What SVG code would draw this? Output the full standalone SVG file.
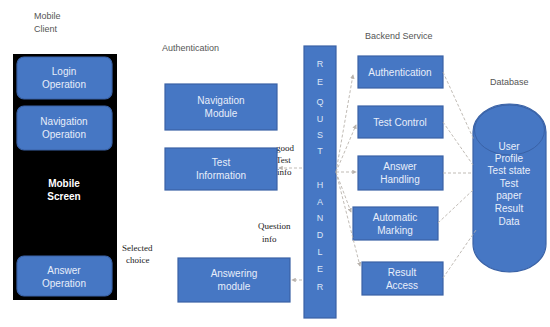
<svg xmlns="http://www.w3.org/2000/svg" width="550" height="327" viewBox="0 0 550 327">
<defs>
<style>
.box{fill:#4677c4;stroke:#3a62a6;stroke-width:1.2}
.t{font-family:"Liberation Sans",Arial,sans-serif;font-size:10px;fill:#e8eefa;text-anchor:middle}
.lbl{font-family:"Liberation Sans",Arial,sans-serif;font-size:9px;fill:#555}
.ser{font-family:"Liberation Serif","Times New Roman",serif;font-size:9px;fill:#222}
.hl{font-family:"Liberation Sans",Arial,sans-serif;font-size:9px;fill:#dde6f6;text-anchor:middle}
.con{stroke:#b9b3ad;stroke-width:0.9;fill:none;stroke-dasharray:3,2}
</style>
<marker id="ah" viewBox="0 0 6 6" refX="5" refY="3" markerWidth="5" markerHeight="5" orient="auto"><path d="M0,0 L6,3 L0,6 z" fill="#b9b3ad"/></marker>
</defs>
<rect width="550" height="327" fill="#fff"/>

<g id="mobile-client">
<text class="lbl" x="34" y="19">Mobile</text>
<text class="lbl" x="34" y="32">Client</text>
<rect x="13" y="54" width="104" height="246" fill="#000"/>
<text x="64" y="187" font-family="Liberation Sans,Arial,sans-serif" font-size="10" font-weight="bold" fill="#fff" text-anchor="middle">Mobile</text>
<text x="64" y="200" font-family="Liberation Sans,Arial,sans-serif" font-size="10" font-weight="bold" fill="#fff" text-anchor="middle">Screen</text>
</g>
<g id="login-operation">
<rect class="box" x="17" y="57" width="95" height="42" rx="7"/>
<text class="t" x="64" y="75">Login</text>
<text class="t" x="64" y="88">Operation</text>
</g>
<g id="navigation-operation">
<rect class="box" x="17" y="106" width="95" height="44" rx="7"/>
<text class="t" x="64" y="125">Navigation</text>
<text class="t" x="64" y="138">Operation</text>
</g>
<g id="answer-operation">
<rect class="box" x="17" y="256" width="95" height="40" rx="7"/>
<text class="t" x="64" y="274">Answer</text>
<text class="t" x="64" y="287">Operation</text>
</g>

<g id="labels">
<text class="ser" x="122" y="251">Selected</text>
<text class="ser" x="126" y="263">choice</text>
<text class="lbl" x="162" y="51">Authentication</text>
<text class="ser" x="276" y="151">good</text>
<text class="ser" x="276" y="163">Test</text>
<text class="ser" x="277" y="175">info</text>
<text class="ser" x="258" y="229">Question</text>
<text class="ser" x="262" y="242">info</text>
<text class="lbl" x="365" y="39">Backend Service</text>
<text class="lbl" x="490" y="85" font-size="8">Database</text>
</g>

<g id="navigation-module">
<rect class="box" x="165" y="84" width="112" height="46"/>
<text class="t" x="221" y="104">Navigation</text>
<text class="t" x="221" y="117">Module</text>
</g>
<g id="test-information">
<rect class="box" x="165" y="148" width="112" height="42"/>
<text class="t" x="221" y="166">Test</text>
<text class="t" x="221" y="179">Information</text>
</g>
<g id="answering-module">
<rect class="box" x="178" y="258" width="112" height="44"/>
<text class="t" x="234" y="277">Answering</text>
<text class="t" x="234" y="290">module</text>
</g>

<g id="request-handler">
<rect class="box" x="304" y="46" width="32" height="272"/>
<text class="hl" x="320" y="67">R</text>
<text class="hl" x="320" y="85">E</text>
<text class="hl" x="320" y="105">Q</text>
<text class="hl" x="320" y="122">U</text>
<text class="hl" x="320" y="138">S</text>
<text class="hl" x="320" y="154">T</text>
<text class="hl" x="320" y="188">H</text>
<text class="hl" x="320" y="205">A</text>
<text class="hl" x="320" y="221">N</text>
<text class="hl" x="320" y="238">D</text>
<text class="hl" x="320" y="255">L</text>
<text class="hl" x="320" y="272">E</text>
<text class="hl" x="320" y="290">R</text>
</g>

<g id="auth-service">
<rect class="box" x="358" y="56" width="85" height="32"/>
<text class="t" x="400" y="76">Authentication</text>
</g>
<g id="test-control">
<rect class="box" x="358" y="106" width="85" height="32"/>
<text class="t" x="400" y="126">Test Control</text>
</g>
<g id="answer-handling">
<rect class="box" x="358" y="156" width="85" height="34"/>
<text class="t" x="400" y="170">Answer</text>
<text class="t" x="400" y="183">Handling</text>
</g>
<g id="automatic-marking">
<rect class="box" x="353" y="207" width="85" height="33"/>
<text class="t" x="395" y="221">Automatic</text>
<text class="t" x="395" y="234">Marking</text>
</g>
<g id="result-access">
<rect class="box" x="362" y="262" width="81" height="33"/>
<text class="t" x="402" y="276">Result</text>
<text class="t" x="402" y="289">Access</text>
</g>

<g id="database">
<rect class="box" x="473" y="104" width="73" height="168" rx="36" ry="28"/>
<ellipse cx="509.5" cy="130" rx="35" ry="25" fill="#4677c4" stroke="#3a62a6" stroke-width="1"/>
<text class="t" x="509" y="150">User</text>
<text class="t" x="509" y="162">Profile</text>
<text class="t" x="509" y="174">Test state</text>
<text class="t" x="509" y="187">Test</text>
<text class="t" x="509" y="199" font-size="9">paper</text>
<text class="t" x="509" y="212">Result</text>
<text class="t" x="509" y="225">Data</text>
</g>

<g id="connectors">
<path class="con" d="M336,172 L353,75" marker-end="url(#ah)"/>
<path class="con" d="M336,172 L356,125" marker-end="url(#ah)"/>
<path class="con" d="M336,172 L356,172" marker-end="url(#ah)"/>
<path class="con" d="M336,172 L351,212" marker-end="url(#ah)"/>
<path class="con" d="M336,172 L360,266" marker-end="url(#ah)"/>
<path class="con" d="M302,168 L279,168" marker-end="url(#ah)"/>
<path class="con" d="M302,280 L292,280" marker-end="url(#ah)"/>
<path class="con" d="M443,72 L474,140"/>
<path class="con" d="M443,122 L473,165"/>
<path class="con" d="M443,173 L473,173"/>
<path class="con" d="M438,223 L473,190"/>
<path class="con" d="M443,278 L476,230"/>
</g>
</svg>
